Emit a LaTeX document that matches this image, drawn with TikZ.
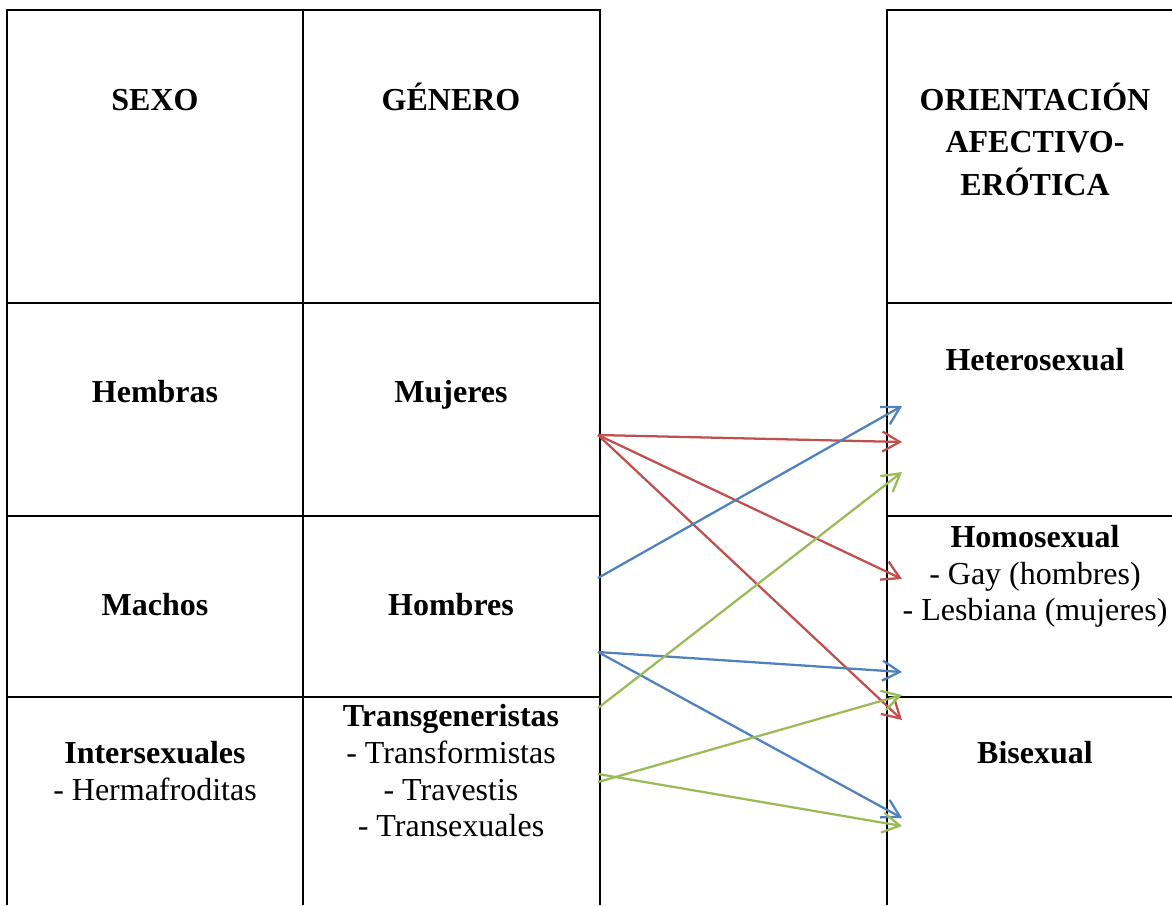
\documentclass[tikz,border=0pt]{standalone}
\usepackage{fontspec}
\setmainfont{Liberation Serif}
\usetikzlibrary{arrows.meta}
\definecolor{ored}{HTML}{C0504D}
\definecolor{oblue}{HTML}{4F81BD}
\definecolor{ogreen}{HTML}{9BBB59}
\begin{document}
\begin{tikzpicture}[x=0.375pt,y=-0.375pt,
  grid/.style={line width=1pt,black},
  lbl/.style={anchor=base,inner sep=0pt,font=\fontsize{12}{14}\selectfont\bfseries},
  sub/.style={anchor=base,inner sep=0pt,font=\fontsize{12}{14}\selectfont},
  link/.style={line width=0.85pt,-{Straight Barb[length=6.5pt,width=7.5pt]}}]
\useasboundingbox (0,0) rectangle (1172,905);
% left table
\draw[grid] (7,905) -- (7,10) -- (600,10) -- (600,905);
\draw[grid] (303,10) -- (303,905);
\draw[grid] (7,303) -- (600,303);
\draw[grid] (7,516) -- (600,516);
\draw[grid] (7,697) -- (600,697);
% right table
\draw[grid] (887,905) -- (887,10) -- (1172,10);
\draw[grid] (887,303) -- (1172,303);
\draw[grid] (887,516) -- (1172,516);
\draw[grid] (887,697) -- (1172,697);
% headers
\node[lbl] (sexo) at (155,110) {SEXO};
\node[lbl] (genero) at (451,110) {GÉNERO};
\node[lbl] (ori1) at (1035,110) {ORIENTACIÓN};
\node[lbl] (ori2) at (1035,152) {AFECTIVO-};
\node[lbl] (ori3) at (1035,195) {ERÓTICA};
% rows
\node[lbl] (hembras) at (155,402) {Hembras};
\node[lbl] (mujeres) at (451,402) {Mujeres};
\node[lbl] (machos) at (155,615) {Machos};
\node[lbl] (hombres) at (451,615) {Hombres};
\node[lbl] (inter) at (155,763) {Intersexuales};
\node[sub] (herm) at (155,800) {- Hermafroditas};
\node[lbl] (trans) at (451,726) {Transgeneristas};
\node[sub] (tf) at (451,763) {- Transformistas};
\node[sub] (tv) at (451,800) {- Travestis};
\node[sub] (tx) at (451,836) {- Transexuales};
\node[lbl] (hetero) at (1035,370) {Heterosexual};
\node[lbl] (homo) at (1035,547) {Homosexual};
\node[sub] (gay) at (1035,584) {- Gay (hombres)};
\node[sub] (lesb) at (1035,620) {- Lesbiana (mujeres)};
\node[lbl] (bi) at (1035,763) {Bisexual};
% arrow coordinates
\coordinate (r0) at (598,435);
\coordinate (b1) at (598,578);
\coordinate (b2) at (598,652);
\coordinate (g1) at (598,708);
\coordinate (g3) at (598,774);
\coordinate (g2) at (598,782);
\coordinate (eb1) at (902,406);
\coordinate (er1) at (902,442);
\coordinate (eg1) at (902,472);
\coordinate (er2) at (902,579);
\coordinate (eb2) at (902,672);
\coordinate (eg2) at (902,695);
\coordinate (er3) at (902,720);
\coordinate (eb3) at (902,818);
\coordinate (eg3) at (902,826);
% arrows
\draw[link,ored] (r0) -- (er1);
\draw[link,ored] (r0) -- (er2);
\draw[link,ored] (r0) -- (er3);
\draw[link,oblue] (b1) -- (eb1);
\draw[link,oblue] (b2) -- (eb2);
\draw[link,oblue] (b2) -- (eb3);
\draw[link,ogreen] (g1) -- (eg1);
\draw[link,ogreen] (g2) -- (eg2);
\draw[link,ogreen] (g3) -- (eg3);
\end{tikzpicture}
\end{document}
